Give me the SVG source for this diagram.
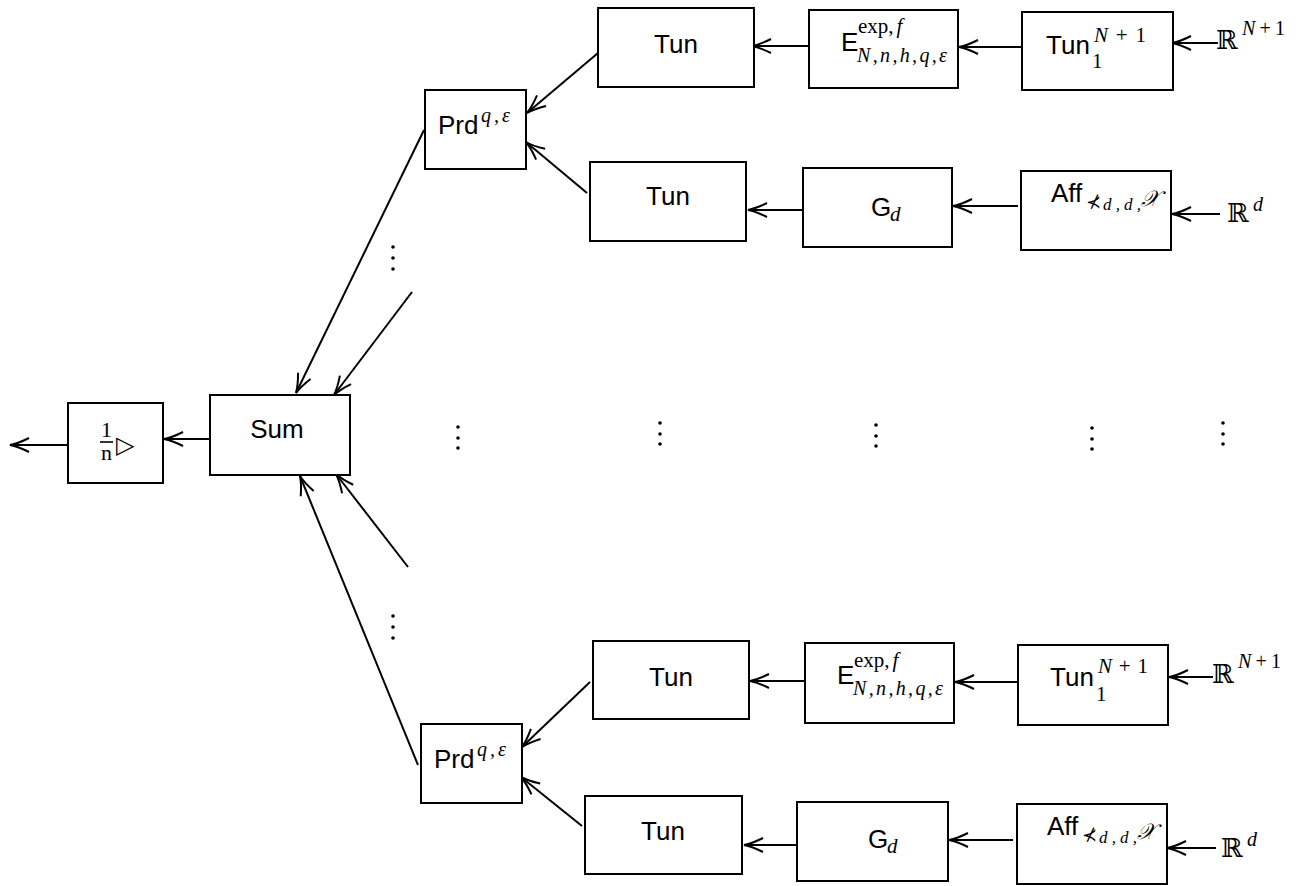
<svg xmlns="http://www.w3.org/2000/svg" width="1301" height="886" viewBox="0 0 1301 886">
<style>
.box{fill:#fff;stroke:#000;stroke-width:2}
.lbl{font-family:"Liberation Sans","DejaVu Sans",sans-serif;font-size:26px;fill:#000}
.mi{font-family:"Liberation Serif","DejaVu Serif",serif;font-style:italic;fill:#000}
.mr{font-family:"Liberation Serif","DejaVu Serif",serif;fill:#000}
.bb{font-family:"DejaVu Serif","DejaVu Sans",serif;fill:#000}
.edge{stroke:#000;stroke-width:2;fill:none;marker-end:url(#ah)}
.dot{fill:#000}
</style>
<defs>
<marker id="ah" markerUnits="userSpaceOnUse" orient="auto" refX="0" refY="0" markerWidth="30" markerHeight="30" viewBox="-25 -15 30 30" overflow="visible">
<path d="M-19,-7 Q-8,-1.5 0,0 Q-8,1.5 -19,7" stroke="#000" stroke-width="2" fill="none"/>
</marker>
</defs>
<rect width="1301" height="886" fill="#fff"/>

<g id="connectors">
<line class="edge" x1="1218" y1="43" x2="1172" y2="43"/>
<line class="edge" x1="1022" y1="47" x2="959" y2="47"/>
<line class="edge" x1="809" y1="46" x2="752" y2="46"/>
<line class="edge" x1="1220" y1="214" x2="1172" y2="214"/>
<line class="edge" x1="1018" y1="206" x2="953" y2="206"/>
<line class="edge" x1="802" y1="210" x2="748" y2="210"/>
<line class="edge" x1="598" y1="53" x2="527" y2="113"/>
<line class="edge" x1="587" y1="193" x2="526" y2="142"/>
<line class="edge" x1="1213" y1="677" x2="1169" y2="677"/>
<line class="edge" x1="1018" y1="682" x2="955" y2="682"/>
<line class="edge" x1="805" y1="681" x2="750" y2="681"/>
<line class="edge" x1="1216" y1="848" x2="1167" y2="848"/>
<line class="edge" x1="1013" y1="840" x2="949" y2="840"/>
<line class="edge" x1="797" y1="845" x2="744" y2="845"/>
<line class="edge" x1="590" y1="682" x2="522" y2="747"/>
<line class="edge" x1="582" y1="826" x2="521" y2="777"/>
<line class="edge" x1="424" y1="130" x2="296" y2="393"/>
<line class="edge" x1="412" y1="292" x2="334" y2="395"/>
<line class="edge" x1="418" y1="765" x2="300" y2="476"/>
<line class="edge" x1="408" y1="567" x2="336" y2="474"/>
<line class="edge" x1="210" y1="439" x2="164" y2="439"/>
<line class="edge" x1="67" y1="445" x2="10" y2="445"/>
</g>

<g id="out1">
<rect class="box" x="68" y="403" width="95" height="80"/>
<text class="mr" x="106.5" y="437" font-size="22" text-anchor="middle">1</text>
<line x1="100" y1="442" x2="113" y2="442" stroke="#000" stroke-width="1.6"/>
<text class="mr" x="106.5" y="460" font-size="22" text-anchor="middle">n</text>
<text class="bb" x="116" y="453" font-size="24">▷</text>
</g>

<g id="sum">
<rect class="box" x="210" y="395" width="140" height="80"/>
<text class="lbl" x="277" y="438" text-anchor="middle">Sum</text>
</g>

<g id="prd1">
<rect class="box" x="425" y="90" width="101" height="79"/>
<text class="lbl" x="438" y="134">Prd</text>
<text class="mi" x="481" y="122" font-size="20" textLength="29" lengthAdjust="spacing">q,ε</text>
</g>

<g id="tun1">
<rect class="box" x="598" y="8" width="156" height="79"/>
<text class="lbl" x="676" y="53" text-anchor="middle">Tun</text>
</g>

<g id="e1">
<rect class="box" x="809" y="10" width="149" height="78"/>
<text class="lbl" x="841" y="51">E</text>
<text x="858" y="33" font-size="21"><tspan class="mr">exp,</tspan><tspan class="mi" dx="3">f</tspan></text>
<text class="mi" x="857" y="62" font-size="20" textLength="90" lengthAdjust="spacing">N,n,h,q,ε</text>
</g>

<g id="tunN1">
<rect class="box" x="1022" y="12" width="151" height="78"/>
<text class="lbl" x="1046" y="54">Tun</text>
<text class="mr" x="1092" y="68" font-size="21">1</text>
<text x="1094" y="42" font-size="21" textLength="52" lengthAdjust="spacing"><tspan class="mi">N</tspan><tspan class="mr">+1</tspan></text>
</g>

<g id="r1">
<text class="bb" x="1216" y="49" font-size="26">ℝ</text>
<text x="1242" y="35" font-size="20" textLength="43" lengthAdjust="spacing"><tspan class="mi">N</tspan><tspan class="mr">+1</tspan></text>
</g>

<g id="tun2">
<rect class="box" x="590" y="162" width="156" height="79"/>
<text class="lbl" x="668" y="205" text-anchor="middle">Tun</text>
</g>

<g id="g1">
<rect class="box" x="803" y="168" width="149" height="79"/>
<text class="lbl" x="871" y="216">G</text>
<text class="mi" x="890" y="221" font-size="21">d</text>
</g>

<g id="aff1">
<rect class="box" x="1021" y="171" width="150" height="79"/>
<text class="lbl" x="1051" y="202">Aff</text>
<text class="bb" x="1086" y="208" font-size="18">⊀</text>
<text class="mi" x="1103" y="210" font-size="17" textLength="38" lengthAdjust="spacing">d,d,</text>
<text class="mi" x="1141" y="206" font-size="22">𝒳</text>
</g>

<g id="r2">
<text class="bb" x="1227" y="222" font-size="26">ℝ</text>
<text class="mi" x="1253" y="211" font-size="20">d</text>
</g>

<g id="prd2">
<rect class="box" x="421" y="724" width="101" height="79"/>
<text class="lbl" x="434" y="768">Prd</text>
<text class="mi" x="477" y="756" font-size="20" textLength="29" lengthAdjust="spacing">q,ε</text>
</g>

<g id="tun3">
<rect class="box" x="593" y="641" width="156" height="78"/>
<text class="lbl" x="671" y="686" text-anchor="middle">Tun</text>
</g>

<g id="e2">
<rect class="box" x="805" y="643" width="149" height="80"/>
<text class="lbl" x="837" y="684">E</text>
<text x="854" y="667" font-size="21"><tspan class="mr">exp,</tspan><tspan class="mi" dx="3">f</tspan></text>
<text class="mi" x="853" y="695" font-size="20" textLength="90" lengthAdjust="spacing">N,n,h,q,ε</text>
</g>

<g id="tunN2">
<rect class="box" x="1018" y="645" width="150" height="80"/>
<text class="lbl" x="1050" y="686">Tun</text>
<text class="mr" x="1096" y="701" font-size="21">1</text>
<text x="1098" y="673" font-size="21" textLength="50" lengthAdjust="spacing"><tspan class="mi">N</tspan><tspan class="mr">+1</tspan></text>
</g>

<g id="r3">
<text class="bb" x="1212" y="683" font-size="26">ℝ</text>
<text x="1238" y="668" font-size="20" textLength="43" lengthAdjust="spacing"><tspan class="mi">N</tspan><tspan class="mr">+1</tspan></text>
</g>

<g id="tun4">
<rect class="box" x="585" y="796" width="157" height="78"/>
<text class="lbl" x="663" y="840" text-anchor="middle">Tun</text>
</g>

<g id="g2">
<rect class="box" x="797" y="802" width="151" height="79"/>
<text class="lbl" x="868" y="848">G</text>
<text class="mi" x="887" y="853" font-size="21">d</text>
</g>

<g id="aff2">
<rect class="box" x="1017" y="804" width="150" height="80"/>
<text class="lbl" x="1047" y="835">Aff</text>
<text class="bb" x="1082" y="841" font-size="18">⊀</text>
<text class="mi" x="1099" y="843" font-size="17" textLength="38" lengthAdjust="spacing">d,d,</text>
<text class="mi" x="1137" y="839" font-size="22">𝒳</text>
</g>

<g id="r4">
<text class="bb" x="1221" y="857" font-size="26">ℝ</text>
<text class="mi" x="1247" y="846" font-size="20">d</text>
</g>

<g id="dots">
<circle class="dot" cx="393" cy="247" r="1.8"/><circle class="dot" cx="393" cy="258" r="1.8"/><circle class="dot" cx="393" cy="269" r="1.8"/>
<circle class="dot" cx="393" cy="616" r="1.8"/><circle class="dot" cx="393" cy="627" r="1.8"/><circle class="dot" cx="393" cy="638" r="1.8"/>
<circle class="dot" cx="458" cy="427" r="1.8"/><circle class="dot" cx="458" cy="438" r="1.8"/><circle class="dot" cx="458" cy="448" r="1.8"/>
<circle class="dot" cx="660" cy="423" r="1.8"/><circle class="dot" cx="660" cy="434" r="1.8"/><circle class="dot" cx="660" cy="444" r="1.8"/>
<circle class="dot" cx="876" cy="425" r="1.8"/><circle class="dot" cx="876" cy="436" r="1.8"/><circle class="dot" cx="876" cy="446" r="1.8"/>
<circle class="dot" cx="1092" cy="428" r="1.8"/><circle class="dot" cx="1092" cy="439" r="1.8"/><circle class="dot" cx="1092" cy="449" r="1.8"/>
<circle class="dot" cx="1223" cy="423" r="1.8"/><circle class="dot" cx="1223" cy="434" r="1.8"/><circle class="dot" cx="1223" cy="444" r="1.8"/>
</g>
</svg>
